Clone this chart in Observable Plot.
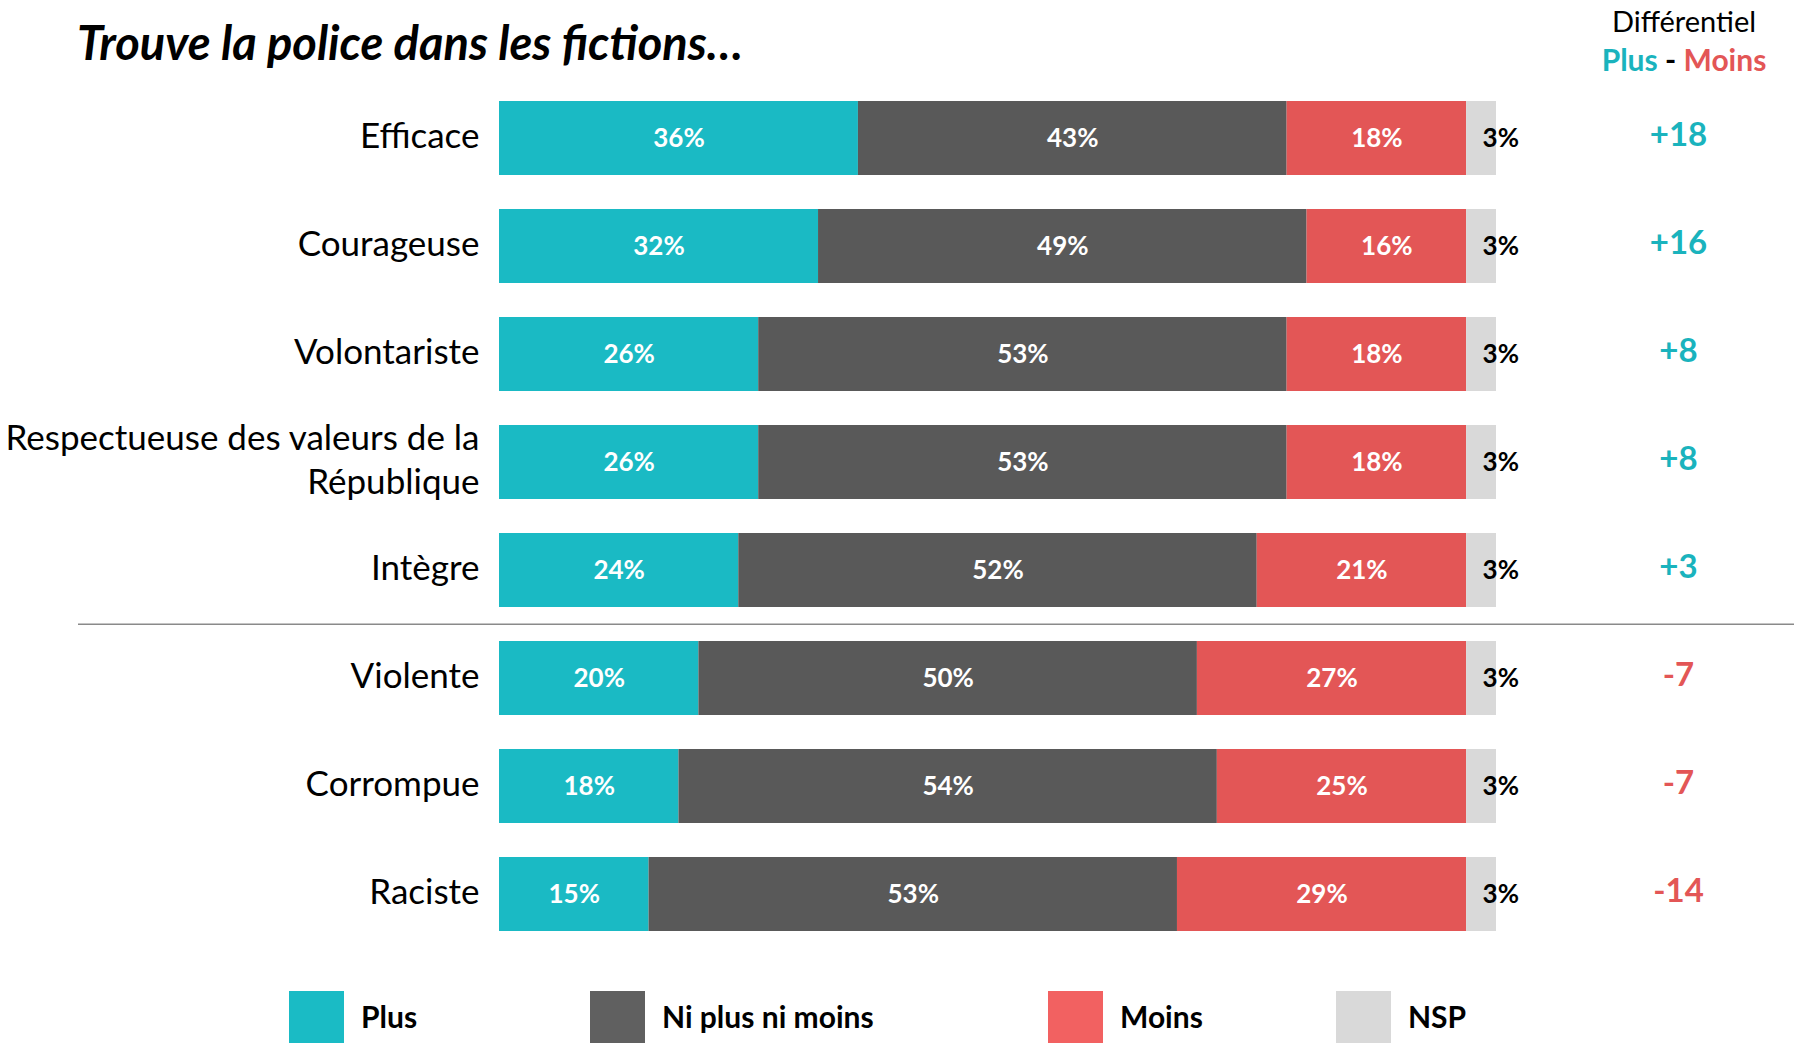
<!DOCTYPE html>
<html>
<head>
<meta charset="utf-8">
<script src="https://cdn.jsdelivr.net/npm/d3@7"></script>
<script src="https://cdn.jsdelivr.net/npm/@observablehq/plot@0.6"></script>
<style>
  html, body { margin: 0; padding: 0; background: #fff; }
  #wrap { position: relative; width: 1794px; height: 1043px; overflow: hidden; font-family: Lato, "Open Sans", sans-serif; }
  #title { position: absolute; left: 77px; top: 19px; font-size: 47px; line-height: 1; font-weight: 700; font-style: italic; color: #000; white-space: nowrap; }
  #diffhead { position: absolute; left: 1584px; width: 200px; top: 6px; text-align: center; color: #000; }
  #diffhead .l1 { font-size: 29px; line-height: 1; height: 38px; }
  #diffhead .l2 { font-size: 30px; line-height: 1; font-weight: 700; }
  #chart { position: absolute; left: 0; top: 80px; }
  #legend .sw { position: absolute; top: 991px; width: 55px; height: 60px; }
  #legend .lb { position: absolute; top: 1001px; font-size: 30px; line-height: 1; font-weight: 700; color: #000; white-space: nowrap; }
</style>
</head>
<body>
<div id="wrap">
  <div id="title">Trouve la police dans les fictions…</div>
  <div id="diffhead"><div class="l1">Différentiel</div><div class="l2"><span id="hPlus"></span> - <span id="hMoins"></span></div></div>
  <div id="chart"></div>
  <div id="legend"></div>
</div>
<script>
// ---- Data ----
const categories = ["Efficace", "Courageuse", "Volontariste", "Respectueuse des valeurs de la République", "Intègre", "Violente", "Corrompue", "Raciste"];
const categoryLabels = ["Efficace", "Courageuse", "Volontariste", "Respectueuse des valeurs de la\nRépublique", "Intègre", "Violente", "Corrompue", "Raciste"];
const seriesNames = ["Plus", "Ni plus ni moins", "Moins", "NSP"];
const plus = [36, 32, 26, 26, 24, 20, 18, 15];
const niPlusNiMoins = [43, 49, 53, 53, 52, 50, 54, 53];
const moins = [18, 16, 18, 18, 21, 27, 25, 29];
const nsp = [3, 3, 3, 3, 3, 3, 3, 3];
const differentiel = [18, 16, 8, 8, 3, -7, -7, -14];
const separatorBefore = "Violente";

// ---- Styles ----
const barColors = ["#1abac4", "#595959", "#e35656", "#d9d9d9"];
const legendColors = ["#1abbc5", "#606060", "#f26161", "#d9d9d9"];
const posColor = "#1ab3bd";
const negColor = "#e35656";

document.getElementById("hPlus").textContent = seriesNames[0];
document.getElementById("hPlus").style.color = posColor;
document.getElementById("hMoins").textContent = seriesNames[2];
document.getElementById("hMoins").style.color = negColor;

const seriesArrays = [plus, niPlusNiMoins, moins, nsp];
const tidy = categories.flatMap((c, i) => seriesArrays.map((arr, j) => ({cat: c, series: seriesNames[j], value: arr[i]})));
const rows = categories.map((c, i) => ({cat: c, label: categoryLabels[i], diff: differentiel[i]}));

const chart = Plot.plot({
  width: 1794,
  height: 860,
  marginLeft: 78,
  marginRight: 0,
  marginTop: 19.5,
  marginBottom: 8,
  style: {fontFamily: "Lato, 'Open Sans', sans-serif", background: "transparent", overflow: "visible"},
  x: {domain: [0, 100], range: [499, 1496], axis: null},
  y: {domain: categories, paddingInner: 0.317, paddingOuter: 0, align: 0.5, axis: null},
  color: {domain: seriesNames, range: barColors},
  marks: [
    Plot.barX(tidy, Plot.stackX({x: "value", y: "cat", fill: "series"})),
    Plot.text(tidy, Plot.stackX({x: "value", y: "cat", z: "series",
      text: d => d.series === "NSP" ? null : d.value + "%",
      fill: "white", fontWeight: "bold", fontSize: 26})),
    Plot.text(tidy, Plot.stackX1({x: "value", y: "cat", z: "series",
      text: d => d.series === "NSP" ? d.value + "%" : null,
      fill: "black", fontWeight: "bold", fontSize: 26, textAnchor: "start", dx: 16})),
    Plot.text(rows, {x: d => 0, y: "cat", text: "label", textAnchor: "end", dx: -20, dy: -5,
      fontSize: 35, fill: "black", lineHeight: 1.27}),
    Plot.text(rows.filter(d => d.diff > 0), {y: "cat", text: d => "+" + d.diff, frameAnchor: "right", dx: -116, dy: -3,
      textAnchor: "middle", fontSize: 33, fontWeight: "bold", fill: posColor}),
    Plot.text(rows.filter(d => d.diff <= 0), {y: "cat", text: d => String(d.diff), frameAnchor: "right", dx: -116, dy: -3,
      textAnchor: "middle", fontSize: 33, fontWeight: "bold", fill: negColor}),
    Plot.ruleY([separatorBefore], {y: d => d, dy: -54.2, stroke: "#8a8a8a", strokeWidth: 1.5})
  ]
});
document.getElementById("chart").appendChild(chart);

// ---- Legend ----
const legendSwatchLeft = [289, 590, 1048, 1336];
const legend = document.getElementById("legend");
seriesNames.forEach((s, i) => {
  const sw = document.createElement("div");
  sw.className = "sw";
  sw.style.left = legendSwatchLeft[i] + "px";
  sw.style.background = legendColors[i];
  legend.appendChild(sw);
  const lb = document.createElement("div");
  lb.className = "lb";
  lb.style.left = (legendSwatchLeft[i] + 72) + "px";
  lb.textContent = s;
  legend.appendChild(lb);
});
</script>
</body>
</html>
